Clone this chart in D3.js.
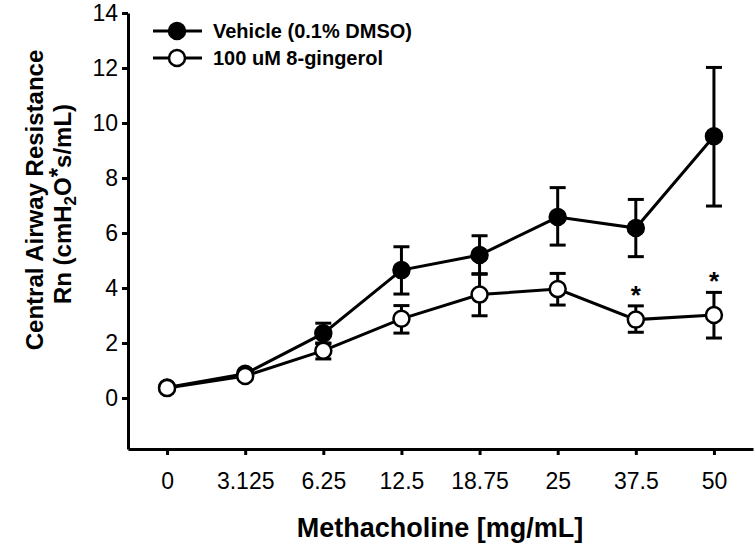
<!DOCTYPE html>
<html>
<head>
<meta charset="utf-8">
<script src="https://cdn.jsdelivr.net/npm/d3@7"></script>
<style>
  body { margin: 0; background: #fff; }
  text { font-family: 'Liberation Sans', Arial, sans-serif; }
</style>
</head>
<body>
<svg id="chart" width="756" height="543"></svg>
<script>
// doses on the x axis (shown as categories, evenly spaced)
const doses = ['0', '3.125', '6.25', '12.5', '18.75', '25', '37.5', '50'];

// mean and error (upper / lower ends) for each group
const vehicleMean = [0.38, 0.88, 2.35, 4.65, 5.2, 6.58, 6.18, 9.52];
const vehicleHigh = [0.45, 0.98, 2.72, 5.5, 5.9, 7.65, 7.22, 12.02];
const vehicleLow = [0.31, 0.78, 1.98, 3.78, 4.52, 5.56, 5.14, 6.98];

const gingerolMean = [0.36, 0.8, 1.72, 2.88, 3.76, 3.96, 2.85, 3.02];
const gingerolHigh = [0.42, 0.88, 2.0, 3.36, 4.5, 4.53, 3.35, 3.84];
const gingerolLow = [0.3, 0.72, 1.42, 2.36, 2.99, 3.38, 2.39, 2.18];

// doses where gingerol differs significantly
const significant = ['37.5', '50'];

const yTicks = [0, 2, 4, 6, 8, 10, 12, 14];

const svg = d3.select('#chart');

const plotLeft = 128, plotRight = 753, plotTop = 13, axisY = 449;

const x = d3.scalePoint().domain(doses).range([plotLeft, plotRight]).padding(0.5);
// value 0 sits at y=398, 14 at y=13
const y = d3.scaleLinear().domain([-1.855, 14]).range([axisY, plotTop]);

// axes
const xAxis = svg.append('g')
  .attr('transform', 'translate(0,' + axisY + ')')
  .call(d3.axisBottom(x).tickSizeOuter(0).tickSizeInner(6).tickPadding(18));

const yAxis = svg.append('g')
  .attr('transform', 'translate(' + plotLeft + ',0)')
  .call(d3.axisLeft(y).tickValues(yTicks).tickSizeOuter(0).tickSizeInner(6).tickPadding(4));

[xAxis, yAxis].forEach(function (g) {
  g.select('.domain').attr('stroke', '#000').attr('stroke-width', 3);
  g.selectAll('.tick line').attr('stroke', '#000').attr('stroke-width', 3);
  g.selectAll('.tick text')
    .attr('fill', '#000')
    .style('font-size', '23px')
    .style('font-family', "'Liberation Sans', Arial, sans-serif");
});

// axis titles
svg.append('text')
  .attr('x', 440)
  .attr('y', 537)
  .attr('text-anchor', 'middle')
  .style('font-size', '27px')
  .style('font-weight', 'bold')
  .text('Methacholine [mg/mL]');

const yTitle = svg.append('g').attr('transform', 'translate(0,200) rotate(-90)');
yTitle.append('text')
  .attr('x', 0)
  .attr('y', 43)
  .attr('text-anchor', 'middle')
  .style('font-size', '24px')
  .style('font-weight', 'bold')
  .text('Central Airway Resistance');

const t2 = yTitle.append('text')
  .attr('x', -4)
  .attr('y', 71)
  .attr('text-anchor', 'middle')
  .style('font-size', '24px')
  .style('font-weight', 'bold');
t2.append('tspan').text('Rn (cmH');
t2.append('tspan').attr('dy', 5).style('font-size', '17px').text('2');
t2.append('tspan').attr('dy', -5).text('O');
t2.append('tspan').attr('dy', -5).text('*');
t2.append('tspan').attr('dy', 5).text('s/mL)');

// draw a series with error bars, line and markers
function drawSeries(mean, high, low, fill) {
  const g = svg.append('g');
  const cap = 8;

  doses.forEach(function (d, i) {
    const cx = x(d);
    g.append('line')
      .attr('x1', cx).attr('x2', cx)
      .attr('y1', y(high[i])).attr('y2', y(low[i]))
      .attr('stroke', '#000').attr('stroke-width', 3);
    [high[i], low[i]].forEach(function (v) {
      g.append('line')
        .attr('x1', cx - cap).attr('x2', cx + cap)
        .attr('y1', y(v)).attr('y2', y(v))
        .attr('stroke', '#000').attr('stroke-width', 3);
    });
  });

  const line = d3.line()
    .x(function (d, i) { return x(doses[i]); })
    .y(function (d) { return y(d); });

  g.append('path')
    .datum(mean)
    .attr('d', line)
    .attr('fill', 'none')
    .attr('stroke', '#000')
    .attr('stroke-width', 3);

  g.selectAll('circle')
    .data(mean)
    .enter()
    .append('circle')
    .attr('cx', function (d, i) { return x(doses[i]); })
    .attr('cy', function (d) { return y(d); })
    .attr('r', 8)
    .attr('fill', fill)
    .attr('stroke', '#000')
    .attr('stroke-width', 2.5);
}

drawSeries(vehicleMean, vehicleHigh, vehicleLow, '#000');
drawSeries(gingerolMean, gingerolHigh, gingerolLow, '#fff');

// significance stars above the gingerol error bars
significant.forEach(function (d) {
  const i = doses.indexOf(d);
  svg.append('text')
    .attr('x', x(d))
    .attr('y', y(gingerolHigh[i]) - 2)
    .attr('text-anchor', 'middle')
    .style('font-size', '26px')
    .style('font-weight', 'bold')
    .text('*');
});

// legend
const legendItems = [
  { label: 'Vehicle (0.1% DMSO)', fill: '#000' },
  { label: '100 uM 8-gingerol', fill: '#fff' }
];

const legend = svg.append('g');
legendItems.forEach(function (item, i) {
  const ly = 31 + i * 27;
  legend.append('line')
    .attr('x1', 153).attr('x2', 202)
    .attr('y1', ly).attr('y2', ly)
    .attr('stroke', '#000').attr('stroke-width', 3);
  legend.append('circle')
    .attr('cx', 177).attr('cy', ly).attr('r', 8)
    .attr('fill', item.fill)
    .attr('stroke', '#000').attr('stroke-width', 2.5);
  legend.append('text')
    .attr('x', 213)
    .attr('y', ly + 7)
    .style('font-size', '20px')
    .style('font-weight', 'bold')
    .text(item.label);
});
</script>
</body>
</html>
